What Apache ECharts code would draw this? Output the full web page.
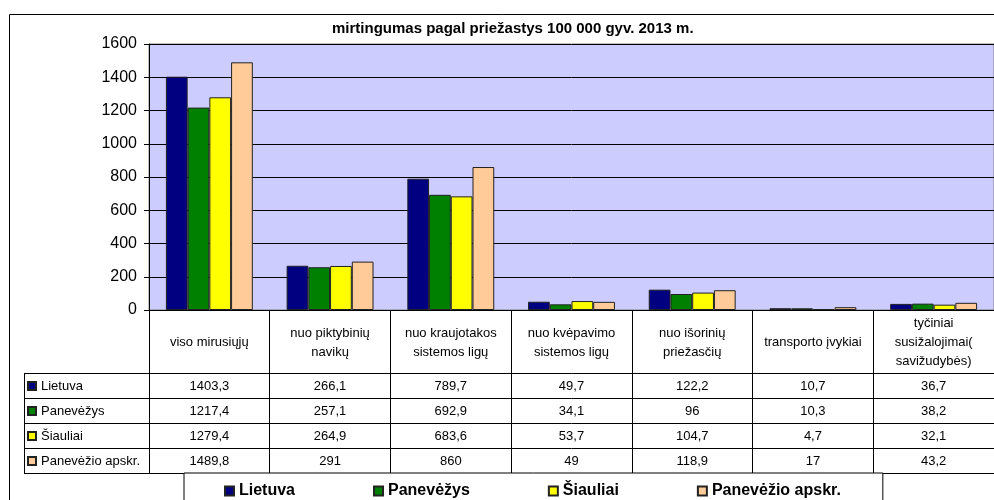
<!DOCTYPE html>
<html>
<head>
<meta charset="utf-8">
<script src="https://cdn.jsdelivr.net/npm/echarts@6/dist/echarts.min.js"></script>
<style>
html, body { margin: 0; background: #fff; }
#chart { width: 994px; height: 500px; }
</style>
</head>
<body>
<div id="chart"></div>
<script>
const categories = [
    'viso mirusiųjų',
    'nuo piktybinių\nnavikų',
    'nuo kraujotakos\nsistemos ligų',
    'nuo kvėpavimo\nsistemos ligų',
    'nuo išorinių\npriežasčių',
    'transporto įvykiai',
    'tyčiniai\nsusižalojimai(\nsavižudybės)'
]
const regions = ['Lietuva', 'Panevėžys', 'Šiauliai', 'Panevėžio apskr.']
const lietuva = [1403.3, 266.1, 789.7, 49.7, 122.2, 10.7, 36.7]
const panevezys = [1217.4, 257.1, 692.9, 34.1, 96, 10.3, 38.2]
const siauliai = [1279.4, 264.9, 683.6, 53.7, 104.7, 4.7, 32.1]
const apskritis = [1489.8, 291, 860, 49, 118.9, 17, 43.2]
const yMax = 1600
const yStep = 200

const seriesValues = [lietuva, panevezys, siauliai, apskritis]
const colors = ['#000080', '#008000', '#ffff00', '#ffcc99']
const font = '"Liberation Sans", Arial, sans-serif'

// layout
const W = 994, H = 500
const gridLeft = 149
const gridTop = 44
const gridBottom = 190
const headerH = 63
const rowH = 25
const tableLeft = 24
const axisY = H - gridBottom

function fmt(v) {
    return String(v).replace('.', ',')
}

const chart = echarts.init(document.getElementById('chart'))

let xAxes = [{
    type: 'category',
    data: categories,
    position: 'bottom',
    axisLine: { onZero: false, lineStyle: { color: '#000', width: 1 } },
    axisTick: { show: true, interval: 0, length: headerH, lineStyle: { color: '#000' } },
    axisLabel: {
        interval: 0,
        margin: headerH / 2 + 1,
        verticalAlign: 'middle',
        align: 'center',
        fontFamily: font,
        fontSize: 13,
        lineHeight: 19,
        color: '#000'
    }
}]

seriesValues.forEach((vals, i) => {
    xAxes.push({
        type: 'category',
        data: categories,
        position: 'bottom',
        offset: headerH + i * rowH,
        axisLine: { onZero: false, lineStyle: { color: '#000', width: 1 } },
        axisTick: { show: true, interval: 0, length: rowH, lineStyle: { color: '#000' } },
        axisLabel: {
            interval: 0,
            margin: rowH / 2 + 1,
            verticalAlign: 'middle',
            fontFamily: font,
            fontSize: 13,
            color: '#000',
            formatter: (value, idx) => fmt(vals[idx])
        }
    })
})

// closing line under the table
xAxes.push({
    type: 'category',
    data: categories,
    position: 'bottom',
    offset: headerH + seriesValues.length * rowH,
    axisLine: { onZero: false, lineStyle: { color: '#000', width: 1 } },
    axisTick: { show: false },
    axisLabel: { show: false }
})

let mySeries = seriesValues.map((vals, i) => ({
    name: regions[i],
    type: 'bar',
    xAxisIndex: 0,
    data: vals,
    barGap: '0%',
    barCategoryGap: '28%',
    itemStyle: { color: colors[i], borderColor: '#222', borderWidth: 1 },
    animation: false
}))

// left column of the data table
let tableLines = []
for (let i = 0; i <= seriesValues.length; i++) {
    const y = axisY + headerH + i * rowH + 0.5
    tableLines.push({
        type: 'line',
        shape: { x1: tableLeft, y1: y, x2: gridLeft, y2: y },
        style: { stroke: '#000', lineWidth: 1 }
    })
}
tableLines.push({
    type: 'line',
    shape: {
        x1: tableLeft + 0.5, y1: axisY + headerH,
        x2: tableLeft + 0.5, y2: axisY + headerH + seriesValues.length * rowH
    },
    style: { stroke: '#000', lineWidth: 1 }
})

chart.setOption({
    animation: false,
    title: {
        text: 'mirtingumas pagal priežastys 100 000 gyv. 2013 m.',
        left: 332,
        top: 21,
        padding: 0,
        textStyle: { fontFamily: font, fontSize: 15, fontWeight: 'bold', color: '#000' }
    },
    legend: [{
        data: regions,
        orient: 'vertical',
        left: 27,
        top: axisY + headerH + 6,
        padding: 0,
        itemWidth: 8,
        itemHeight: 8,
        itemGap: 11,
        icon: 'rect',
        selectedMode: false,
        textStyle: { fontFamily: font, fontSize: 13, color: '#000', lineHeight: 14 }
    }, {
        data: regions,
        orient: 'horizontal',
        left: 184,
        top: axisY + headerH + seriesValues.length * rowH,
        padding: [10, 42, 30, 40],
        itemWidth: 9,
        itemHeight: 9,
        itemGap: 78,
        icon: 'rect',
        selectedMode: false,
        borderColor: '#000',
        borderWidth: 1,
        backgroundColor: '#fff',
        textStyle: { fontFamily: font, fontSize: 16, fontWeight: 'bold', color: '#000' }
    }],
    grid: {
        show: true,
        left: gridLeft,
        right: -5.5,
        top: gridTop,
        bottom: gridBottom,
        backgroundColor: '#ccccff',
        borderColor: '#808080',
        borderWidth: 1,
        containLabel: false
    },
    xAxis: xAxes,
    yAxis: {
        type: 'value',
        min: 0,
        max: yMax,
        interval: yStep,
        axisLine: { show: true, lineStyle: { color: '#000' } },
        axisTick: { show: true, length: 5, lineStyle: { color: '#000' } },
        axisLabel: {
            margin: 12,
            fontFamily: font,
            fontSize: 16,
            color: '#000',
            formatter: v => String(v)
        },
        splitLine: { lineStyle: { color: '#000', width: 1 } }
    },
    graphic: [{
        type: 'rect',
        shape: { x: 9.5, y: 14.5, width: 1000, height: 500 },
        style: { fill: 'none', stroke: '#000', lineWidth: 1 },
        z: 100
    }].concat(tableLines),
    series: mySeries
})
</script>
</body>
</html>
